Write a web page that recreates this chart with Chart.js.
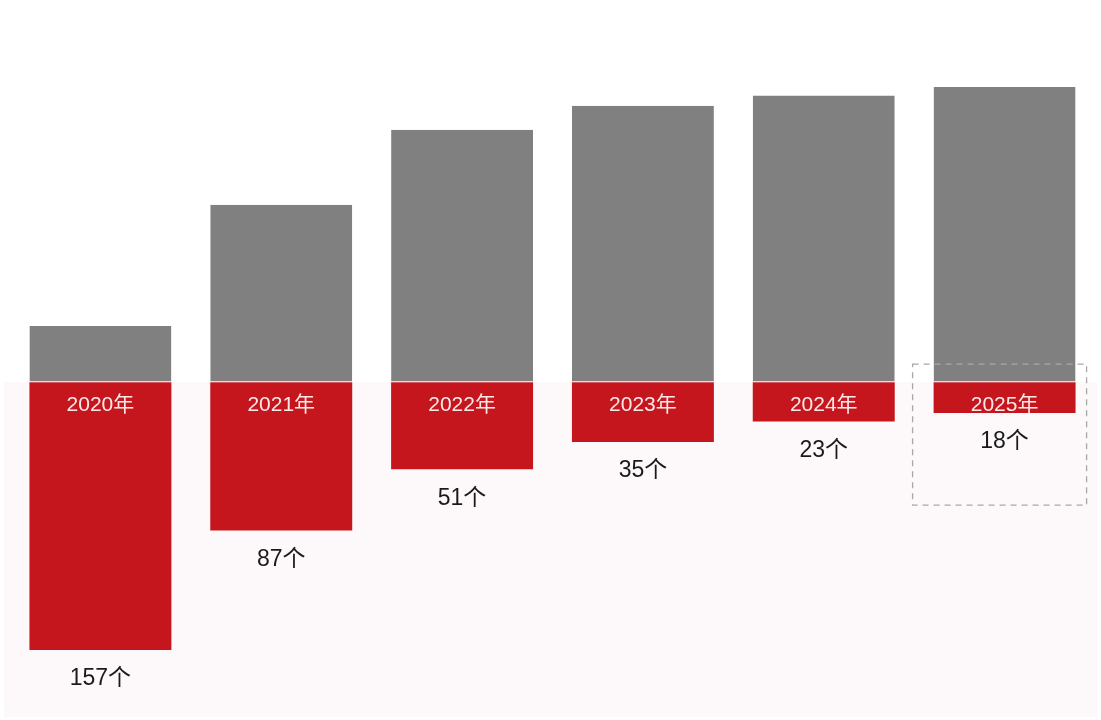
<!DOCTYPE html>
<html>
<head>
<meta charset="utf-8">
<script src="https://cdn.jsdelivr.net/npm/chart.js@4/dist/chart.umd.min.js"></script>
<style>
    html, body { margin: 0; padding: 0; background: #fff; }
    #wrap { width: 1101px; height: 720px; }
</style>
</head>
<body>
<div id="wrap"><canvas id="barChart"></canvas></div>
<script>
// data
const years = ['2020年', '2021年', '2022年', '2023年', '2024年', '2025年'];
const grayValues = [33, 104, 148, 162, 168, 173];
const redValues = [157, 87, 51, 35, 23, 18];
const redLabels = ['157个', '87个', '51个', '35个', '23个', '18个'];

const fontFamily = '"Helvetica Neue", "Liberation Sans", "Noto Sans CJK SC", sans-serif';

// pink area below the zero line + labels + dashed box
const decoPlugin = {
    id: 'deco',
    beforeDatasetsDraw: function (chart) {
        const ctx = chart.ctx;
        const zeroY = chart.scales.y.getPixelForValue(0);
        ctx.save();
        ctx.fillStyle = '#fdf8f9';
        ctx.fillRect(4, zeroY, chart.width - 8, chart.height - zeroY - 3);
        ctx.restore();
    },
    afterDatasetsDraw: function (chart) {
        const ctx = chart.ctx;
        const zeroY = chart.scales.y.getPixelForValue(0);
        const redBars = chart.getDatasetMeta(1).data;
        ctx.save();
        ctx.textAlign = 'center';
        ctx.textBaseline = 'middle';
        redBars.forEach(function (bar, i) {
            ctx.fillStyle = '#fbe9ea';
            ctx.font = '21px ' + fontFamily;
            ctx.fillText(years[i], bar.x, zeroY + 23);
            ctx.fillStyle = '#1a1a1a';
            ctx.font = '23px ' + fontFamily;
            ctx.fillText(redLabels[i], bar.x, bar.y + 29);
        });
        // dashed box on the last year
        const last = redBars[redBars.length - 1];
        ctx.strokeStyle = '#a8a8a8';
        ctx.lineWidth = 1.3;
        ctx.setLineDash([6, 5]);
        ctx.strokeRect(last.x - 92, zeroY - 18, 174, 141);
        ctx.restore();
    }
};

new Chart(document.getElementById('barChart'), {
    type: 'bar',
    data: {
        labels: years,
        datasets: [
            {
                label: 'gray',
                data: grayValues,
                backgroundColor: '#808080',
                borderColor: '#ffffff',
                borderWidth: { bottom: 1, top: 0, left: 0, right: 0 },
                borderSkipped: false
            },
            {
                label: 'red',
                data: redValues.map(function (v) { return -v; }),
                backgroundColor: '#c4161c',
                borderWidth: 0
            }
        ]
    },
    options: {
        responsive: true,
        maintainAspectRatio: false,
        animation: false,
        layout: { padding: { left: 10, right: 6, top: 0, bottom: 0 } },
        datasets: {
            bar: { barPercentage: 0.785, categoryPercentage: 1 }
        },
        plugins: {
            legend: { display: false },
            tooltip: { enabled: false }
        },
        scales: {
            x: { stacked: true, display: false },
            y: { stacked: true, display: false, min: -198, max: 224 }
        }
    },
    plugins: [decoPlugin]
});
</script>
</body>
</html>
